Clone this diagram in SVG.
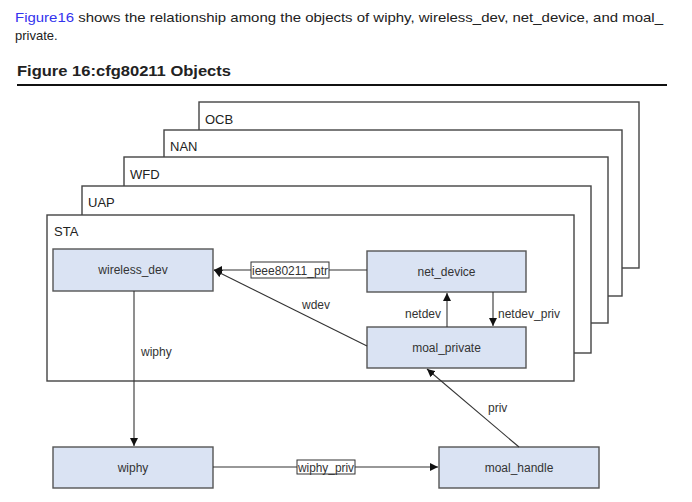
<svg xmlns="http://www.w3.org/2000/svg" width="692" height="502" viewBox="0 0 692 502">
<style>
text{font-family:"Liberation Sans",Arial,sans-serif;fill:#222}
.frame{fill:#fff;stroke:#444;stroke-width:1.4}
.ft{font-size:13px}
.node rect{fill:#dae3f3;stroke:#555;stroke-width:1.4}
.node text{font-size:12px;text-anchor:middle;fill:#333}
.edge{stroke:#333;stroke-width:1.1;fill:none}
.lbl{font-size:12px;fill:#333}
.lbox{fill:#fff;stroke:#333;stroke-width:1}
</style>
<defs>
<marker id="ah" viewBox="0 0 10 10" refX="10" refY="5" markerWidth="8" markerHeight="8" markerUnits="userSpaceOnUse" orient="auto">
<path d="M0,0L10,5L0,10z" fill="#111"/>
</marker>
</defs>
<text x="15" y="22" font-size="13" textLength="648" lengthAdjust="spacingAndGlyphs"><tspan fill="#3333ee">Figure16</tspan> shows the relationship among the objects of wiphy, wireless_dev, net_device, and moal_</text>
<text x="15" y="40" font-size="13">private.</text>
<text x="17" y="76" font-size="15" font-weight="bold" textLength="214" lengthAdjust="spacingAndGlyphs" fill="#111">Figure 16:cfg80211 Objects</text>
<line x1="17" y1="85" x2="667" y2="85" stroke="#111" stroke-width="2.2"/>
<g id="frame-ocb"><rect class="frame" x="199" y="102" width="440" height="166"/><text class="ft" x="205" y="124">OCB</text></g>
<g id="frame-nan"><rect class="frame" x="164" y="130" width="458" height="166"/><text class="ft" x="170" y="151">NAN</text></g>
<g id="frame-wfd"><rect class="frame" x="124" y="157" width="484" height="166"/><text class="ft" x="130" y="179">WFD</text></g>
<g id="frame-uap"><rect class="frame" x="82" y="186" width="509" height="167"/><text class="ft" x="88" y="207">UAP</text></g>
<g id="frame-sta"><rect class="frame" x="47" y="215" width="527" height="166"/><text class="ft" x="54" y="236">STA</text></g>
<g id="wireless_dev" class="node"><rect x="53" y="249" width="160" height="42"/><text x="133" y="274">wireless_dev</text></g>
<g id="net_device" class="node"><rect x="367" y="251" width="159" height="41"/><text x="446.5" y="276">net_device</text></g>
<g id="moal_private" class="node"><rect x="367" y="327" width="159" height="41"/><text x="446.5" y="352">moal_private</text></g>
<g id="wiphy" class="node"><rect x="53" y="447" width="160" height="41"/><text x="133" y="472">wiphy</text></g>
<g id="moal_handle" class="node"><rect x="439" y="447" width="160" height="41"/><text x="519" y="472">moal_handle</text></g>
<g id="connectors">
<line class="edge" x1="367" y1="270" x2="214" y2="270" marker-end="url(#ah)"/>
<rect class="lbox" x="251" y="262" width="78" height="16"/>
<text class="lbl" x="252" y="274.5" textLength="76" lengthAdjust="spacingAndGlyphs">ieee80211_ptr</text>
<line class="edge" x1="367" y1="346" x2="214" y2="270" marker-end="url(#ah)"/>
<text class="lbl" x="302" y="309">wdev</text>
<line class="edge" x1="447" y1="327" x2="447" y2="293" marker-end="url(#ah)"/>
<text class="lbl" x="441" y="318" text-anchor="end">netdev</text>
<line class="edge" x1="493" y1="292" x2="493" y2="326" marker-end="url(#ah)"/>
<text class="lbl" x="498" y="318">netdev_priv</text>
<line class="edge" x1="134" y1="291" x2="134" y2="446" marker-end="url(#ah)"/>
<text class="lbl" x="141" y="356">wiphy</text>
<line class="edge" x1="213" y1="467" x2="438" y2="467" marker-end="url(#ah)"/>
<rect class="lbox" x="297" y="460" width="58" height="14"/>
<text class="lbl" x="298" y="471.5" textLength="56" lengthAdjust="spacingAndGlyphs">wiphy_priv</text>
<line class="edge" x1="519" y1="447" x2="427" y2="369" marker-end="url(#ah)"/>
<text class="lbl" x="488" y="412">priv</text>
</g>
</svg>
